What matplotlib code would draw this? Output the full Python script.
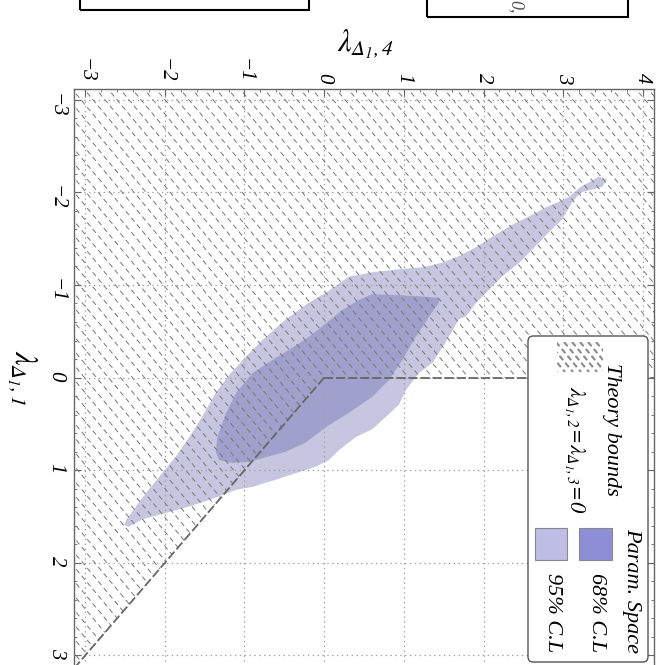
import numpy as np
import matplotlib
matplotlib.use("Agg")
import matplotlib.pyplot as plt
from matplotlib.patches import Polygon, Rectangle, FancyBboxPatch
from matplotlib.collections import LineCollection
from matplotlib.transforms import IdentityTransform
from matplotlib.ticker import MultipleLocator

plt.rcParams['font.family'] = ['Liberation Serif', 'DejaVu Serif']
plt.rcParams['font.style'] = 'italic'
plt.rcParams['mathtext.fontset'] = 'stix'
plt.rcParams['lines.scale_dashes'] = False

# contours, (lambda_{D1,1}, lambda_{D1,4})
cl95_lam1 = [-2.14, -2.17, -2.12, -2.06, -1.95, -1.90, -1.84, -1.74, -1.65, -1.52,
             -1.41, -1.31, -1.24, -1.19, -1.17, -1.14, -1.09, -0.92, -0.81, -0.63,
             -0.44, -0.23, -0.03, 0.16, 0.42, 0.64, 0.85, 1.07, 1.24, 1.39,
             1.53, 1.59, 1.61, 1.53, 1.46, 1.39, 1.32, 1.21, 1.18, 1.10,
             1.03, 0.96, 0.89, 0.78, 0.64, 0.56, 0.42, 0.29, 0.13, -0.05,
             -0.16, -0.36, -0.63, -0.66, -0.81, -0.95, -1.09, -1.24, -1.38, -1.57,
             -1.71, -1.89, -2.00, -2.03, -2.06]
cl95_lam4 = [3.55, 3.45, 3.35, 3.22, 3.07, 2.95, 2.79, 2.57, 2.36, 2.11,
             1.91, 1.69, 1.48, 1.23, 0.94, 0.63, 0.31, 0.03, -0.19, -0.48,
             -0.73, -0.98, -1.19, -1.36, -1.53, -1.69, -1.86, -2.07, -2.23, -2.36,
             -2.48, -2.51, -2.45, -2.28, -1.98, -1.69, -1.44, -1.10, -0.90, -0.60,
             -0.35, -0.10, 0.06, 0.19, 0.40, 0.60, 0.78, 0.94, 1.03, 1.19,
             1.36, 1.51, 1.69, 1.78, 1.91, 2.07, 2.23, 2.45, 2.61, 2.82,
             2.99, 3.11, 3.22, 3.36, 3.49]
cl68_lam1 = [-0.86, -0.87, -0.89, -0.90, -0.84, -0.73, -0.59, -0.44, -0.30, -0.19,
             -0.05, 0.16, 0.38, 0.64, 0.80, 0.89, 0.92, 0.91, 0.86, 0.80,
             0.70, 0.53, 0.38, 0.21, 0.02, -0.19, -0.44, -0.66, -0.81]
cl68_lam4 = [1.44, 1.32, 0.94, 0.60, 0.44, 0.23, 0.03, -0.19, -0.44, -0.65,
             -0.90, -1.10, -1.23, -1.34, -1.36, -1.32, -1.15, -0.94, -0.73, -0.48,
             -0.23, 0.03, 0.31, 0.60, 0.82, 0.98, 1.15, 1.32, 1.44]

ticks_lam1 = [-3, -2, -1, 0, 1, 2, 3]
ticks_lam4 = [-3, -2, -1, 0, 1, 2, 3, 4]
lim_lam1 = (-3.12, 3.12)
lim_lam4 = (-3.14, 4.14)

c68 = '#a0a0cc'
c95 = '#c6c6e0'
c68_leg = '#8e8ed6'
c95_leg = '#bdbde6'
hatch_col = '#767676'

W, H = 656, 665


def fpos(x, y):
    # image pixel (from top-left) -> figure fraction
    return x / W, 1 - y / H


def hatch_lines(x0, x1, y0, y1, step, slope=1.0):
    # "\" strokes in display pixels covering a box
    h = y1 - y0
    offs = np.arange(x0 - h / slope, x1 + step, step)
    return [[(o, y1), (o + h / slope, y0)] for o in offs]


fig = plt.figure(figsize=(W / 100, H / 100), dpi=100)
# plot is drawn turned a quarter turn: lambda_4 runs across, lambda_1 runs down
ax = fig.add_axes([74 / W, -1.6 / H, 580 / W, 578 / H])
ax.set_xlim(*lim_lam4)
ax.set_ylim(lim_lam1[1], lim_lam1[0])

ax.add_patch(Polygon(np.column_stack([cl95_lam4, cl95_lam1]), closed=True,
                     facecolor=c95, edgecolor='none', zorder=1))
ax.add_patch(Polygon(np.column_stack([cl68_lam4, cl68_lam1]), closed=True,
                     facecolor=c68, edgecolor='none', zorder=1.1))

# theory bounds: lambda_1 >= 0 and lambda_4 >= -lambda_1 are allowed
big = 10
excluded = Polygon([(-big, -big), (big, -big), (big, 0), (0, 0), (-big, big)],
                   closed=True, facecolor='none', edgecolor='none')
ax.add_patch(excluded)
hl = LineCollection(hatch_lines(0, W, 0, H, 12, slope=1.2),
                    transform=IdentityTransform(), colors=hatch_col,
                    linewidths=0.7, linestyles=[(0, (3.6, 2.6))], zorder=2)
ax.add_collection(hl)
hl.set_clip_path(excluded)

bnd = np.array([0, big])
ax.plot(bnd, 0 * bnd, color='#666666', lw=1.3, ls=(0, (6.5, 2.2)), zorder=3)
ax.plot(-bnd, bnd, color='#666666', lw=1.3, ls=(0, (6.5, 2.2)), zorder=3)

ax.set_axisbelow(False)
ax.grid(True, which='major', color='#a0a0a0', lw=0.9, ls=(0, (1, 2.5)))

ax.set_xticks(ticks_lam4, [str(t).replace('-', '\u2212') for t in ticks_lam4])
ax.set_yticks(ticks_lam1, [str(t).replace('-', '\u2212') for t in ticks_lam1])
ax.xaxis.set_minor_locator(MultipleLocator(0.2))
ax.yaxis.set_minor_locator(MultipleLocator(0.2))
ax.tick_params(which='both', direction='in', top=True, bottom=False, left=True,
               right=True, labeltop=True, labelbottom=False, colors='#666666',
               labelcolor='black', labelsize=15)
ax.tick_params(which='major', length=5, width=0.8)
ax.tick_params(which='minor', length=2.5, width=0.6)
ax.tick_params(axis='x', labelrotation=-90, pad=4)
ax.tick_params(axis='y', labelrotation=-90, pad=6)
for s in ax.spines.values():
    s.set_color('#666666')
    s.set_linewidth(1.0)

fig.text(*fpos(365, 44), r'$\lambda_{\Delta_1,4}$', fontsize=22,
         ha='center', va='center')
fig.text(*fpos(22, 378), r'$\lambda_{\Delta_1,1}$', fontsize=22, rotation=-90,
         ha='center', va='center')

# legend, built by hand since it is turned too
x0, y0 = fpos(528, 662)
x1, y1 = fpos(648, 336)
fig.patches.append(FancyBboxPatch((x0, y0), x1 - x0, y1 - y0,
                                  boxstyle='round,pad=0,rounding_size=0.008',
                                  transform=fig.transFigure, facecolor='white',
                                  edgecolor='#555555', lw=1.0, zorder=5))
for (xa, xb), col in [((579, 612), c68_leg), ((535, 567), c95_leg)]:
    px0, py0 = fpos(xa, 560)
    px1, py1 = fpos(xb, 528)
    fig.patches.append(Rectangle((px0, py0), px1 - px0, py1 - py0,
                                 transform=fig.transFigure, facecolor=col,
                                 edgecolor='#888888', lw=0.8, zorder=6))
icon = Rectangle((557, H - 372), 46, 30, transform=IdentityTransform(),
                 facecolor='none', edgecolor='none')
fig.patches.append(icon)
il = LineCollection(hatch_lines(557, 603, H - 372, H - 342, 8, slope=1.2),
                    transform=IdentityTransform(), colors='#8a8a8a',
                    linewidths=1.5, linestyles=[(0, (4, 2.5))], zorder=7)
il.set_clip_path(icon)
fig.add_artist(il)

fig.text(*fpos(632, 591), 'Param. Space', fontsize=16, rotation=-90,
         ha='center', va='center', zorder=8)
fig.text(*fpos(597, 613), '68% C.L', fontsize=16, rotation=-90,
         ha='center', va='center', zorder=8)
fig.text(*fpos(553, 613), '95% C.L', fontsize=16, rotation=-90,
         ha='center', va='center', zorder=8)
fig.text(*fpos(611, 429), 'Theory bounds', fontsize=16, rotation=-90,
         ha='center', va='center', zorder=8)
fig.text(*fpos(575, 450), r'$\lambda_{\Delta_1,2}\!=\!\lambda_{\Delta_1,3}\!=\!\mathit{0}$',
         fontsize=16, rotation=-90, ha='center', va='center', zorder=8)

# cut-off boxes of the neighbouring panels above
for xa, xb, yb in [(80, 309, 10), (427, 628, 17)]:
    fig.patches.append(Rectangle((xa, H - yb), xb - xa, 40,
                                 transform=IdentityTransform(), facecolor='none',
                                 edgecolor='black', lw=1.5))
fig.text(*fpos(516, 0.5), '0,', fontsize=13, rotation=-90, color='#555555',
         ha='center', va='top')

fig.savefig('out.png', dpi=100)
